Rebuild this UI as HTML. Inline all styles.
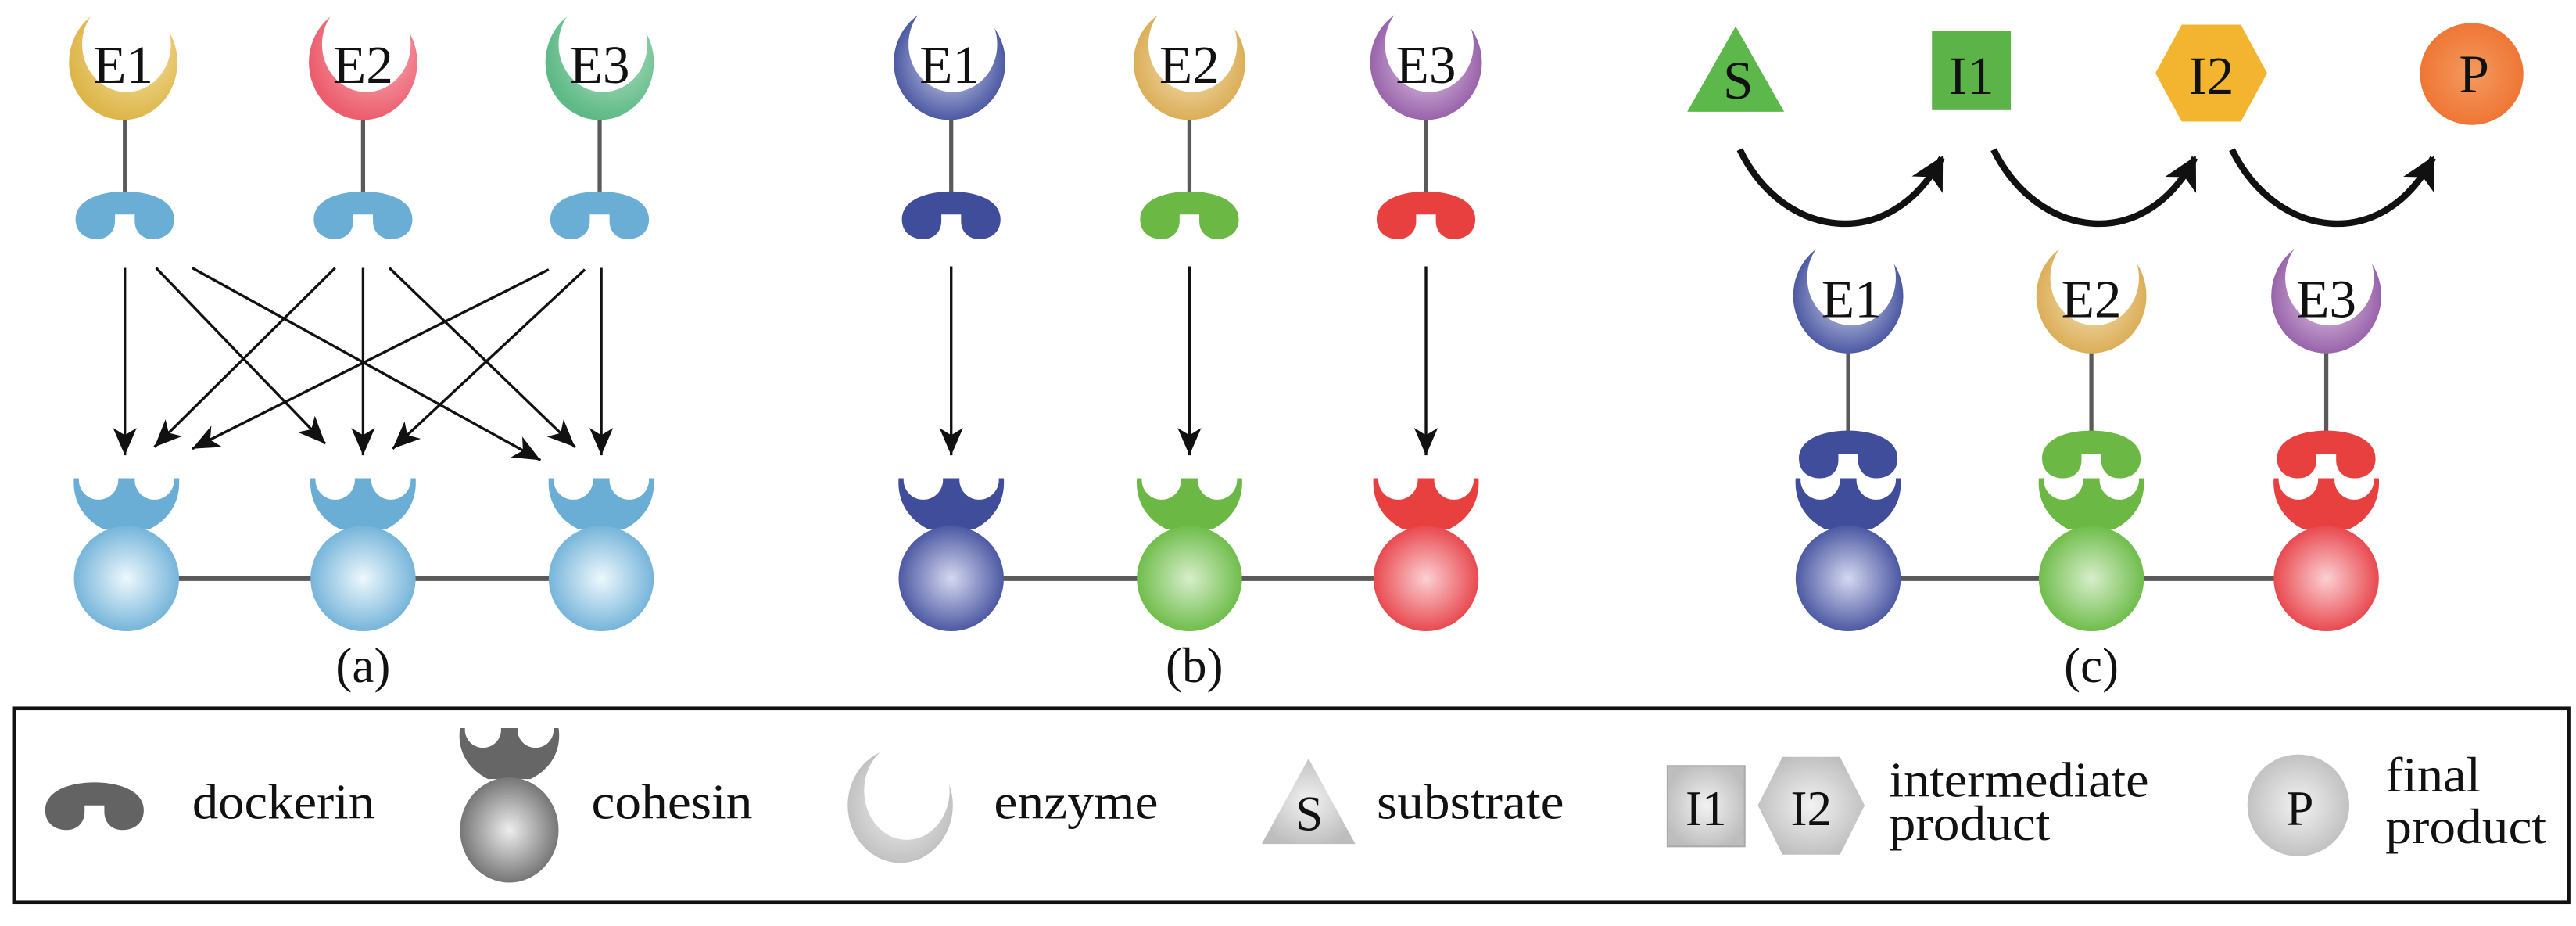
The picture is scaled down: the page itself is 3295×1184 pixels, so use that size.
<!DOCTYPE html>
<html><head><meta charset="utf-8"><style>
html,body{margin:0;padding:0;background:#fff;}
svg{display:block;font-family:"Liberation Serif","DejaVu Serif","Noto Serif CJK SC",serif;}
svg text{font-family:"Liberation Serif","DejaVu Serif","Noto Serif CJK SC",serif;fill:#111;}
</style></head><body>
<svg width="3295" height="1184" viewBox="0 0 1568 563.4" preserveAspectRatio="none" xmlns="http://www.w3.org/2000/svg">
<defs>
<radialGradient id="gLB" cx="0.5" cy="0.5" r="0.55"><stop offset="0" stop-color="#eef8fd"/><stop offset="1" stop-color="#6aaed6"/></radialGradient>
<radialGradient id="gY" cx="0.6" cy="0.4" r="0.6"><stop offset="0" stop-color="#f6e3a6"/><stop offset="1" stop-color="#ddb64a"/></radialGradient>
<radialGradient id="gR" cx="0.6" cy="0.4" r="0.6"><stop offset="0" stop-color="#f8b4bc"/><stop offset="1" stop-color="#ec5d6d"/></radialGradient>
<radialGradient id="gG" cx="0.6" cy="0.4" r="0.6"><stop offset="0" stop-color="#b9e3c8"/><stop offset="1" stop-color="#5db985"/></radialGradient>
<radialGradient id="gB" cx="0.5" cy="0.5" r="0.55"><stop offset="0" stop-color="#d6d8f0"/><stop offset="1" stop-color="#3f4d9b"/></radialGradient>
<radialGradient id="gGo" cx="0.5" cy="0.5" r="0.6"><stop offset="0" stop-color="#f5e2b8"/><stop offset="1" stop-color="#d6a446"/></radialGradient>
<radialGradient id="gP" cx="0.5" cy="0.5" r="0.6"><stop offset="0" stop-color="#e2cbe8"/><stop offset="1" stop-color="#8a4f9e"/></radialGradient>
<radialGradient id="gGr" cx="0.5" cy="0.5" r="0.55"><stop offset="0" stop-color="#d7eecb"/><stop offset="1" stop-color="#66b83f"/></radialGradient>
<radialGradient id="gRe" cx="0.5" cy="0.5" r="0.55"><stop offset="0" stop-color="#fbd0d3"/><stop offset="1" stop-color="#e63c42"/></radialGradient>
<radialGradient id="gGray" cx="0.5" cy="0.5" r="0.55"><stop offset="0" stop-color="#eeeeee"/><stop offset="1" stop-color="#6a6a6a"/></radialGradient>
<radialGradient id="gLG" cx="0.5" cy="0.5" r="0.55"><stop offset="0" stop-color="#f2f2f2"/><stop offset="1" stop-color="#bdbdbd"/></radialGradient>
<radialGradient id="gOr" cx="0.5" cy="0.5" r="0.6"><stop offset="0" stop-color="#f39a5f"/><stop offset="1" stop-color="#ee6f2d"/></radialGradient>
<marker id="ah" markerUnits="userSpaceOnUse" markerWidth="20" markerHeight="20" viewBox="-16 -8 18 16" refX="0" refY="0" orient="auto"><path d="M0,0 L-15,-6.5 L-11,0 L-15,6.5 Z" fill="#111"/></marker>
<marker id="ah2" markerUnits="userSpaceOnUse" markerWidth="24" markerHeight="24" viewBox="-16 -9 18 18" refX="0" refY="0" orient="auto"><path d="M1,0 L-14,-8 L-10,0 L-14,8 Z" fill="#111"/></marker>
<path id="dock" d="M -30 17 C -30 5, -15 0, 0 0 C 15 0, 30 5, 30 17 C 30 25, 24 29, 17 29 C 10 29, 6 24, 6 18 L 6 14 L -6 14 L -6 18 C -6 24, -10 29, -17 29 C -24 29, -30 25, -30 17 Z"/>
<path id="head" d="M -32 0 C -33 14, -26 25, -14 31 L 14 31 C 26 25, 33 14, 32 0 Z"/>
</defs>

<!-- Panel a -->
<g stroke="#5a5a5a" stroke-width="3"><line x1="76" y1="352" x2="365" y2="352"/></g>
<g stroke="#5a5a5a" stroke-width="2.5"><line x1="76" y1="70" x2="76" y2="118"/><line x1="221" y1="70" x2="221" y2="118"/><line x1="365" y1="70" x2="365" y2="118"/></g>
<ellipse cx="75" cy="38" rx="33" ry="35" fill="url(#gY)"/><ellipse cx="77" cy="27" rx="27" ry="29" fill="#fff"/>
<ellipse cx="221" cy="38" rx="33" ry="35" fill="url(#gR)"/><ellipse cx="223" cy="27" rx="27" ry="29" fill="#fff"/>
<ellipse cx="365" cy="38" rx="33" ry="35" fill="url(#gG)"/><ellipse cx="367" cy="27" rx="27" ry="29" fill="#fff"/>
<g font-size="33" text-anchor="middle"><text x="75" y="50.5">E1</text><text x="221" y="50.5">E2</text><text x="365" y="50.5">E3</text></g>
<g fill="#6aaed6">
<use href="#dock" transform="translate(76,116.5)"/><use href="#dock" transform="translate(221,116.5)"/><use href="#dock" transform="translate(365,116.5)"/>
</g>
<g transform="translate(77,291)"><use href="#head" fill="#6aaed6"/><circle cx="-17" cy="1" r="12" fill="#fff"/><circle cx="17" cy="1" r="12" fill="#fff"/><ellipse cx="0" cy="61" rx="32" ry="32" fill="url(#gLB)"/></g>
<g transform="translate(221,291)"><use href="#head" fill="#6aaed6"/><circle cx="-17" cy="1" r="12" fill="#fff"/><circle cx="17" cy="1" r="12" fill="#fff"/><ellipse cx="0" cy="61" rx="32" ry="32" fill="url(#gLB)"/></g>
<g transform="translate(366,291)"><use href="#head" fill="#6aaed6"/><circle cx="-17" cy="1" r="12" fill="#fff"/><circle cx="17" cy="1" r="12" fill="#fff"/><ellipse cx="0" cy="61" rx="32" ry="32" fill="url(#gLB)"/></g>
<g stroke="#111" stroke-width="1.6" marker-end="url(#ah)">
<line x1="76" y1="163" x2="76" y2="277"/>
<line x1="95" y1="163" x2="198" y2="270"/>
<line x1="117" y1="163" x2="329" y2="280"/>
<line x1="204" y1="163" x2="94" y2="272"/>
<line x1="221" y1="163" x2="221" y2="277"/>
<line x1="237" y1="163" x2="350" y2="272"/>
<line x1="334" y1="164" x2="117" y2="273"/>
<line x1="356" y1="164" x2="239" y2="273"/>
<line x1="366" y1="163" x2="366" y2="277"/>
</g>
<text x="221" y="415" font-size="30" text-anchor="middle">(a)</text>

<!-- Panel b -->
<g stroke="#5a5a5a" stroke-width="3"><line x1="579" y1="352" x2="868" y2="352"/></g>
<g stroke="#5a5a5a" stroke-width="2.5"><line x1="579" y1="70" x2="579" y2="118"/><line x1="724" y1="70" x2="724" y2="118"/><line x1="868" y1="70" x2="868" y2="118"/></g>
<ellipse cx="578" cy="38" rx="34" ry="35" fill="url(#gB)"/><ellipse cx="580" cy="27" rx="27" ry="29" fill="#fff"/>
<ellipse cx="724" cy="38" rx="34" ry="35" fill="url(#gGo)"/><ellipse cx="726" cy="27" rx="27" ry="29" fill="#fff"/>
<ellipse cx="868" cy="38" rx="34" ry="35" fill="url(#gP)"/><ellipse cx="870" cy="27" rx="27" ry="29" fill="#fff"/>
<g font-size="33" text-anchor="middle"><text x="578" y="50.5">E1</text><text x="724" y="50.5">E2</text><text x="868" y="50.5">E3</text></g>
<use href="#dock" transform="translate(579,116.5)" fill="#3f4d9b"/>
<use href="#dock" transform="translate(724,116.5)" fill="#6cb844"/>
<use href="#dock" transform="translate(868,116.5)" fill="#e8403f"/>
<g transform="translate(579,291)"><use href="#head" fill="#3f4d9b"/><circle cx="-17" cy="1" r="12" fill="#fff"/><circle cx="17" cy="1" r="12" fill="#fff"/><ellipse cx="0" cy="61" rx="32" ry="32" fill="url(#gB)"/></g>
<g transform="translate(724,291)"><use href="#head" fill="#6cb844"/><circle cx="-17" cy="1" r="12" fill="#fff"/><circle cx="17" cy="1" r="12" fill="#fff"/><ellipse cx="0" cy="61" rx="32" ry="32" fill="url(#gGr)"/></g>
<g transform="translate(868,291)"><use href="#head" fill="#e8403f"/><circle cx="-17" cy="1" r="12" fill="#fff"/><circle cx="17" cy="1" r="12" fill="#fff"/><ellipse cx="0" cy="61" rx="32" ry="32" fill="url(#gRe)"/></g>
<g stroke="#111" stroke-width="1.6" marker-end="url(#ah)">
<line x1="579" y1="162" x2="579" y2="277"/>
<line x1="724" y1="162" x2="724" y2="277"/>
<line x1="868" y1="162" x2="868" y2="277"/>
</g>
<text x="727" y="415" font-size="30" text-anchor="middle">(b)</text>

<!-- Panel c -->
<polygon points="1027,68 1086,68 1056.5,16" fill="#5cb84a"/>
<rect x="1176" y="19" width="48" height="48" fill="#5cb347"/>
<polygon points="1312,44.5 1328,15 1364,15 1380,44.5 1364,74 1328,74" fill="#f3b530"/>
<ellipse cx="1504.5" cy="45" rx="31.5" ry="31" fill="url(#gOr)"/>
<g font-size="33" text-anchor="middle"><text x="1058" y="60">S</text><text x="1200" y="57">I1</text><text x="1346" y="57">I2</text><text x="1506" y="56">P</text></g>
<g fill="none" stroke="#111" stroke-width="4">
<path d="M1059 91 C1085 145, 1150 155, 1182 96" marker-end="url(#ah2)"/>
<path d="M1213.5 91 C1240 145, 1305 155, 1336 96" marker-end="url(#ah2)"/>
<path d="M1358.6 91 C1385 145, 1450 155, 1481 96" marker-end="url(#ah2)"/>
</g>
<g stroke="#5a5a5a" stroke-width="3"><line x1="1125" y1="352" x2="1416" y2="352"/></g>
<g stroke="#5a5a5a" stroke-width="2.5"><line x1="1125" y1="212" x2="1125" y2="264"/><line x1="1273" y1="212" x2="1273" y2="264"/><line x1="1416" y1="212" x2="1416" y2="264"/></g>
<ellipse cx="1125" cy="180" rx="33.5" ry="35" fill="url(#gB)"/><ellipse cx="1127" cy="169" rx="27" ry="29" fill="#fff"/>
<ellipse cx="1273" cy="180" rx="33.5" ry="35" fill="url(#gGo)"/><ellipse cx="1275" cy="169" rx="27" ry="29" fill="#fff"/>
<ellipse cx="1416" cy="180" rx="33.5" ry="35" fill="url(#gP)"/><ellipse cx="1418" cy="169" rx="27" ry="29" fill="#fff"/>
<g font-size="33" text-anchor="middle"><text x="1127" y="193">E1</text><text x="1273" y="193">E2</text><text x="1416" y="193">E3</text></g>
<g transform="translate(1125,291)"><use href="#head" fill="#3f4d9b"/><circle cx="-17" cy="1" r="12" fill="#fff"/><circle cx="17" cy="1" r="12" fill="#fff"/><ellipse cx="0" cy="61" rx="32" ry="32" fill="url(#gB)"/></g>
<g transform="translate(1273,291)"><use href="#head" fill="#6cb844"/><circle cx="-17" cy="1" r="12" fill="#fff"/><circle cx="17" cy="1" r="12" fill="#fff"/><ellipse cx="0" cy="61" rx="32" ry="32" fill="url(#gGr)"/></g>
<g transform="translate(1416,291)"><use href="#head" fill="#e8403f"/><circle cx="-17" cy="1" r="12" fill="#fff"/><circle cx="17" cy="1" r="12" fill="#fff"/><ellipse cx="0" cy="61" rx="32" ry="32" fill="url(#gRe)"/></g>
<use href="#dock" transform="translate(1125,262)" fill="#3f4d9b"/>
<use href="#dock" transform="translate(1273,262)" fill="#6cb844"/>
<use href="#dock" transform="translate(1416,262)" fill="#e8403f"/>
<text x="1273" y="415" font-size="30" text-anchor="middle">(c)</text>

<!-- Legend -->
<rect x="8.5" y="431" width="1555" height="118" fill="none" stroke="#111" stroke-width="2.2"/>
<use href="#dock" transform="translate(57.5,476)" fill="#636363"/>
<g transform="translate(310,443)"><path d="M -30 0 C -32 14, -25 25, -13 31 L 13 31 C 25 25, 32 14, 30 0 Z" fill="#666"/><circle cx="-16" cy="1" r="11" fill="#fff"/><circle cx="16" cy="1" r="11" fill="#fff"/><ellipse cx="0" cy="62" rx="30" ry="32" fill="url(#gGray)"/></g>
<ellipse cx="548" cy="490" rx="32" ry="35" fill="url(#gLG)"/><ellipse cx="552" cy="481" rx="26" ry="30" fill="#fff"/>
<polygon points="768,513.5 825,513.5 796.5,461.5" fill="url(#gLG)"/>
<rect x="1015" y="466" width="47" height="49" fill="url(#gLG)" stroke="#aaa" stroke-width="1"/>
<polygon points="1070,490 1085,460.5 1120,460.5 1135,490 1120,520 1085,520" fill="url(#gLG)"/>
<ellipse cx="1399" cy="490" rx="31" ry="31" fill="url(#gLG)"/>
<g font-size="30">
<text x="117" y="498" textLength="111" lengthAdjust="spacingAndGlyphs">dockerin</text>
<text x="360" y="498" textLength="98" lengthAdjust="spacingAndGlyphs">cohesin</text>
<text x="605" y="498" textLength="100" lengthAdjust="spacingAndGlyphs">enzyme</text>
<text x="797" y="505" text-anchor="middle">S</text>
<text x="838" y="498" textLength="114" lengthAdjust="spacingAndGlyphs">substrate</text>
<text x="1038.5" y="502" text-anchor="middle">I1</text>
<text x="1102.5" y="502" text-anchor="middle">I2</text>
<text x="1150" y="484.6" textLength="158" lengthAdjust="spacingAndGlyphs">intermediate</text>
<text x="1150" y="511" textLength="98" lengthAdjust="spacingAndGlyphs">product</text>
<text x="1400" y="502" text-anchor="middle">P</text>
<text x="1452" y="481.5" textLength="58" lengthAdjust="spacingAndGlyphs">final</text>
<text x="1452" y="513" textLength="98" lengthAdjust="spacingAndGlyphs">product</text>
</g>
</svg>
</body></html>
